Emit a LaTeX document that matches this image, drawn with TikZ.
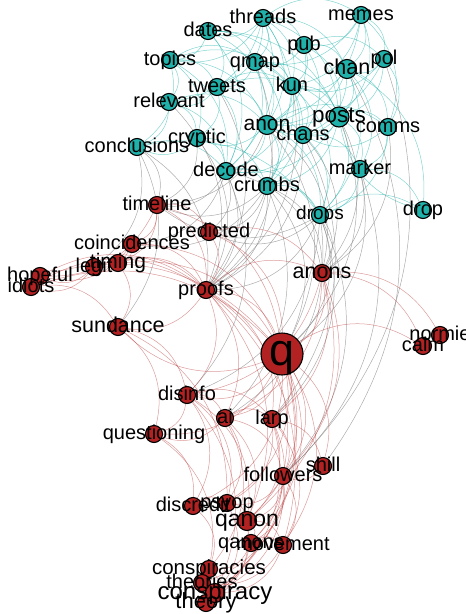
\documentclass[tikz,border=0pt]{standalone}
\usepackage{fontspec}
\setmainfont{Liberation Sans}
\definecolor{tealfill}{HTML}{20B2AA}
\definecolor{redfill}{HTML}{B22222}
\pgfdeclarelayer{bg}
\pgfsetlayers{bg,main}
\begin{document}
\begin{tikzpicture}[x=1pt,y=-1pt,
 vt/.style={circle,draw=black,line width=1.1pt,fill=tealfill,minimum size=17pt,inner sep=0},
 vr/.style={circle,draw=black,line width=1.1pt,fill=redfill,minimum size=17pt,inner sep=0},
 et/.style={draw=tealfill,opacity=0.55,line width=0.5pt},
 er/.style={draw=redfill,opacity=0.45,line width=0.5pt},
 eg/.style={draw=gray,opacity=0.65,line width=0.5pt},
 lab/.style={inner sep=0,anchor=base,text=black}]
\useasboundingbox (0,0) rectangle (466,614);
% teal vertices
\foreach \n/\x/\y in {threads/263/18, memes/361/15, dates/208/31, pub/304/45, pol/384/59,
  topics/170/60, qmap/255/62, tweets/217/87, kun/292/86, relevant/169/102,
  comms/388/127, chans/303/135, cryptic/197/138, conclusions/137/147,
  decode/226/171, crumbs/267/186, marker/360/169, drops/320/215, drop/423/210}
  \node[vt] (\n) at (\x,\y) {};
\node[vt,minimum size=19pt] (chan) at (347,69) {};
\node[vt,minimum size=20pt] (posts) at (339,117) {};
\node[vt,minimum size=19pt] (anon) at (267,125) {};
% red vertices
\foreach \n/\x/\y in {timeline/157/205, predicted/209/232, coincidences/132/244, timing/118/263,
  legit/94/267, hopeful/40/276, idiots/31/287, proofs/206/290, anons/322/273, sundance/118/327,
  normie/440/335, calm/423/346, disinfo/187/395, ai/225/418, larp/272/419, questioning/154/434,
  shill/323/466, followers/283/476, discredit/193/506, psyop/227/503, qanons/251/543,
  movement/283/545, conspiracies/209/569, theories/202/583, theory/206/603}
  \node[vr] (\n) at (\x,\y) {};
\node[vr,minimum size=42pt] (q) at (282,354) {};
\node[vr,minimum size=19pt] (qanon) at (247,521) {};
\node[vr,minimum size=19pt] (conspiracy) at (215,593) {};
\begin{pgfonlayer}{bg}
\foreach \a/\b in {threads/memes, threads/dates, threads/pub, threads/topics, threads/qmap, threads/kun,
  threads/chan, threads/anon, threads/posts, threads/tweets, threads/decode, threads/relevant, threads/crumbs,
  memes/pol, memes/chan, memes/kun, memes/pub, memes/posts, memes/anon, memes/qmap, memes/comms,
  dates/topics, dates/qmap, dates/kun, dates/posts, dates/tweets, dates/anon, dates/decode,
  pub/kun, pub/chan, pub/pol, pub/posts, pub/anon, pub/chans, pub/qmap,
  pol/chan, pol/posts, pol/kun, pol/comms, pol/anon,
  topics/relevant, topics/tweets, topics/qmap, topics/cryptic, topics/decode, topics/anon, topics/conclusions, topics/kun,
  qmap/kun, qmap/tweets, qmap/anon, qmap/posts, qmap/crumbs, qmap/chans, qmap/decode,
  chan/kun, chan/posts, chan/chans, chan/anon, chan/comms, chan/drops, chan/marker, chan/drop,
  tweets/kun, tweets/anon, tweets/cryptic, tweets/decode, tweets/relevant, tweets/posts,
  kun/posts, kun/anon, kun/chans, kun/crumbs, kun/drops, kun/decode,
  relevant/cryptic, relevant/decode, relevant/conclusions, relevant/anon,
  posts/anon, posts/chans, posts/comms, posts/drops, posts/marker, posts/crumbs, posts/decode,
  anon/chans, anon/crumbs, anon/decode, anon/cryptic, anon/drops, anon/comms,
  comms/chans, comms/drops, comms/marker, chans/crumbs, chans/drops, chans/decode, chans/marker,
  cryptic/decode, cryptic/crumbs, cryptic/conclusions, conclusions/decode, conclusions/drops,
  decode/crumbs, decode/drops, crumbs/drops, marker/drops, marker/drop, drops/drop, drop/posts}
  \draw[et] (\a) to[bend left=32] (\b);
\foreach \a/\b in {conclusions/proofs, conclusions/timeline, conclusions/sundance, relevant/proofs,
  cryptic/proofs, cryptic/timeline, decode/proofs, decode/predicted, decode/anons, decode/timeline,
  crumbs/proofs, crumbs/anons, crumbs/q, crumbs/predicted, crumbs/timeline,
  drops/anons, drops/q, drops/proofs, drops/predicted, drops/larp, drops/followers, drops/ai,
  anon/anons, anon/proofs, anon/q, posts/anons, posts/q, chans/anons, chans/proofs,
  marker/anons, marker/q, marker/followers, kun/proofs, tweets/proofs, qmap/proofs, chan/shill,
  drops/disinfo, drops/timeline, anon/timeline, crumbs/coincidences, decode/coincidences, chans/larp,
  conclusions/legit, pol/followers, comms/anons, crumbs/ai, decode/disinfo}
  \draw[eg] (\a) to[bend left=32] (\b);
\foreach \a/\b in {timeline/predicted, timeline/proofs, timeline/coincidences, timeline/timing, timeline/hopeful, timeline/q,
  predicted/proofs, predicted/q, predicted/anons, coincidences/timing, coincidences/proofs, coincidences/hopeful,
  coincidences/legit, coincidences/q, timing/legit, timing/proofs, timing/q, timing/sundance,
  legit/hopeful, legit/idiots, legit/proofs, hopeful/idiots, hopeful/proofs, hopeful/q, idiots/proofs, idiots/q,
  idiots/sundance, proofs/anons, proofs/q, proofs/sundance, proofs/disinfo, proofs/ai, proofs/larp,
  proofs/followers, proofs/qanon, proofs/movement, anons/q, anons/normie, anons/calm, anons/larp,
  anons/followers, anons/ai, anons/disinfo, anons/qanon, q/calm, q/disinfo, q/ai, q/larp,
  q/followers, q/shill, q/questioning, q/psyop, q/qanon, q/qanons, q/movement, q/conspiracy, q/theory,
  q/discredit, q/sundance, sundance/disinfo, sundance/questioning, sundance/psyop, disinfo/ai, disinfo/larp,
  disinfo/questioning, disinfo/psyop, disinfo/discredit, disinfo/qanon, disinfo/conspiracy,
  ai/larp, ai/questioning, ai/psyop, ai/followers, ai/qanon, ai/conspiracies,
  larp/followers, larp/shill, larp/psyop, larp/qanon, larp/qanons, larp/movement, larp/conspiracy,
  questioning/discredit, questioning/conspiracies, shill/followers, followers/qanon, followers/qanons,
  followers/movement, followers/psyop, followers/conspiracy, followers/theories, discredit/psyop,
  discredit/conspiracies, psyop/qanon, psyop/conspiracy, qanon/qanons, qanon/movement, qanon/conspiracy,
  qanon/theory, qanons/movement, qanons/conspiracies, conspiracies/theories, conspiracies/conspiracy,
  theories/conspiracy, theories/theory, conspiracy/theory, movement/conspiracy, movement/theories}
  \draw[er] (\a) to[bend left=32] (\b);
\end{pgfonlayer}
% labels
\foreach \n/\t/\s in {threads/threads/20, memes/memes/20, dates/dates/20, pub/pub/20, pol/pol/20,
  topics/topics/20, qmap/qmap/20, chan/chan/21.5, tweets/tweets/20, kun/kun/20, relevant/relevant/20,
  posts/posts/22.5, anon/anon/21, comms/comms/20, chans/chans/20, cryptic/cryptic/20,
  conclusions/conclusions/20, decode/decode/20, crumbs/crumbs/20, marker/marker/20, drops/drops/19,
  drop/drop/20, timeline/timeline/20, predicted/predicted/20, coincidences/coincidences/20,
  timing/timing/21, legit/legit/20, hopeful/hopeful/20, idiots/idiots/20, proofs/proofs/20,
  anons/anons/21.5, sundance/sundance/21.5, q/q/45, normie/normie/20, calm/calm/20, disinfo/disinfo/20,
  ai/ai/20, larp/larp/20, questioning/questioning/20, shill/shill/20, followers/followers/20,
  discredit/discredit/20, psyop/psyop/20, qanon/qanon/23, qanons/qanons/20, movement/movement/20,
  conspiracies/conspiracies/20.5, theories/theories/20, conspiracy/conspiracy/24, theory/theory/22}
  \node[lab,font=\fontsize{\s}{\s}\selectfont] (l-\n) at ([yshift={-0.26pt*\s}]\n.center) {\t};
\end{tikzpicture}
\end{document}
